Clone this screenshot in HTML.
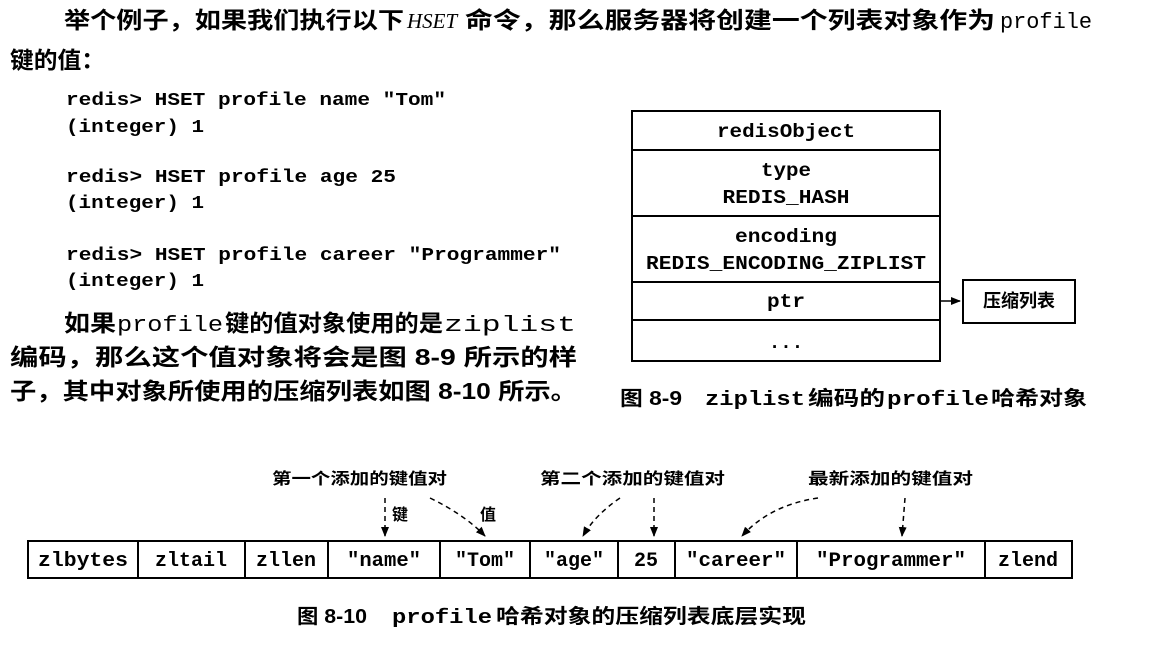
<!DOCTYPE html>
<html><head><meta charset="utf-8"><style>
html,body{margin:0;padding:0;background:#fff;}
svg{display:block}
.cj{font-family:"Liberation Sans","Noto Sans CJK SC",sans-serif;font-weight:bold;}
.mo{font-family:"Liberation Mono","Noto Sans CJK SC",monospace;}
</style></head><body>
<svg width="1163" height="649" viewBox="0 0 1163 649" xmlns="http://www.w3.org/2000/svg">
<defs><marker id="ah" markerWidth="10" markerHeight="10" refX="9" refY="5" orient="auto" markerUnits="userSpaceOnUse"><path d="M0,1 L10,5 L0,9 z" fill="#000"/></marker></defs>
<g fill="#000">
<text class="cj" x="64" y="28" font-size="23" textLength="340" lengthAdjust="spacingAndGlyphs">举个例子，如果我们执行以下</text>
<text x="407" y="28" font-size="21" font-style="italic" font-family="Liberation Serif,serif">HSET</text>
<text class="cj" x="465" y="28" font-size="23" textLength="530" lengthAdjust="spacingAndGlyphs">命令，那么服务器将创建一个列表对象作为</text>
<text class="mo" x="1000" y="28" font-size="22" textLength="92" lengthAdjust="spacingAndGlyphs">profile</text>
<text class="cj" x="10" y="68" font-size="23" textLength="95" lengthAdjust="spacingAndGlyphs">键的值：</text>
<g class="mo" font-size="18" font-weight="bold">
<text x="66" y="105" textLength="380" lengthAdjust="spacingAndGlyphs">redis&gt; HSET profile name "Tom"</text>
<text x="66" y="132" textLength="138" lengthAdjust="spacingAndGlyphs">(integer) 1</text>
<text x="66" y="182" textLength="330" lengthAdjust="spacingAndGlyphs">redis&gt; HSET profile age 25</text>
<text x="66" y="208" textLength="138" lengthAdjust="spacingAndGlyphs">(integer) 1</text>
<text x="66" y="260" textLength="495" lengthAdjust="spacingAndGlyphs">redis&gt; HSET profile career "Programmer"</text>
<text x="66" y="286" textLength="138" lengthAdjust="spacingAndGlyphs">(integer) 1</text>
</g>
<text class="cj" x="64" y="331" font-size="23" textLength="52" lengthAdjust="spacingAndGlyphs">如果</text>
<text class="mo" x="117" y="331" font-size="22" textLength="106" lengthAdjust="spacingAndGlyphs">profile</text>
<text class="cj" x="225" y="331" font-size="23" textLength="218" lengthAdjust="spacingAndGlyphs">键的值对象使用的是</text>
<text class="mo" x="444" y="331" font-size="22" textLength="132" lengthAdjust="spacingAndGlyphs">ziplist</text>
<text class="cj" x="10" y="365" font-size="23" textLength="567" lengthAdjust="spacingAndGlyphs">编码，那么这个值对象将会是图 8-9 所示的样</text>
<text class="cj" x="10" y="399" font-size="23" textLength="567" lengthAdjust="spacingAndGlyphs">子，其中对象所使用的压缩列表如图 8-10 所示。</text>
</g>
<g stroke="#000" stroke-width="2" fill="none">
<rect x="632" y="111" width="308" height="250"/>
<line x1="632" y1="150" x2="940" y2="150"/>
<line x1="632" y1="216" x2="940" y2="216"/>
<line x1="632" y1="282" x2="940" y2="282"/>
<line x1="632" y1="320" x2="940" y2="320"/>
<rect x="963" y="280" width="112" height="43"/>
<line x1="940" y1="301" x2="960" y2="301" marker-end="url(#ah)" stroke-width="1.5"/>
</g>
<g class="mo" font-size="19" font-weight="bold" text-anchor="middle">
<text x="786" y="137" textLength="138" lengthAdjust="spacingAndGlyphs">redisObject</text>
<text x="786" y="176" textLength="50" lengthAdjust="spacingAndGlyphs">type</text>
<text x="786" y="203" textLength="127" lengthAdjust="spacingAndGlyphs">REDIS_HASH</text>
<text x="786" y="242" textLength="102" lengthAdjust="spacingAndGlyphs">encoding</text>
<text x="786" y="269" textLength="280" lengthAdjust="spacingAndGlyphs">REDIS_ENCODING_ZIPLIST</text>
<text x="786" y="307" textLength="38" lengthAdjust="spacingAndGlyphs">ptr</text>
<text x="786" y="348">...</text>
</g>
<text class="cj" x="1019" y="307" font-size="18" text-anchor="middle">压缩列表</text>
<text class="cj" x="620" y="405" font-size="20" textLength="62" lengthAdjust="spacingAndGlyphs">图 8-9</text>
<text class="mo" x="705" y="405" font-size="20" font-weight="bold" textLength="100" lengthAdjust="spacingAndGlyphs">ziplist</text>
<text class="cj" x="808" y="405" font-size="20" textLength="77" lengthAdjust="spacingAndGlyphs">编码的</text>
<text class="mo" x="887" y="405" font-size="20" font-weight="bold" textLength="102" lengthAdjust="spacingAndGlyphs">profile</text>
<text class="cj" x="991" y="405" font-size="20" textLength="96" lengthAdjust="spacingAndGlyphs">哈希对象</text>
<g stroke="#000" stroke-width="2" fill="none">
<rect x="28" y="541" width="1044" height="37"/>
<line x1="138" y1="541" x2="138" y2="578"/>
<line x1="245" y1="541" x2="245" y2="578"/>
<line x1="328" y1="541" x2="328" y2="578"/>
<line x1="440" y1="541" x2="440" y2="578"/>
<line x1="530" y1="541" x2="530" y2="578"/>
<line x1="618" y1="541" x2="618" y2="578"/>
<line x1="675" y1="541" x2="675" y2="578"/>
<line x1="797" y1="541" x2="797" y2="578"/>
<line x1="985" y1="541" x2="985" y2="578"/>
</g>
<g class="mo" font-size="20" font-weight="bold" text-anchor="middle">
<text x="83" y="566" textLength="90" lengthAdjust="spacingAndGlyphs">zlbytes</text>
<text x="191" y="566">zltail</text>
<text x="286" y="566">zllen</text>
<text x="384" y="566" textLength="74" lengthAdjust="spacingAndGlyphs">"name"</text>
<text x="485" y="566">"Tom"</text>
<text x="574" y="566">"age"</text>
<text x="646" y="566">25</text>
<text x="736" y="566" textLength="100" lengthAdjust="spacingAndGlyphs">"career"</text>
<text x="891" y="566" textLength="150" lengthAdjust="spacingAndGlyphs">"Programmer"</text>
<text x="1028" y="566">zlend</text>
</g>
<g class="cj" font-size="16">
<text x="272" y="484" textLength="175" lengthAdjust="spacingAndGlyphs">第一个添加的键值对</text>
<text x="540" y="484" textLength="185" lengthAdjust="spacingAndGlyphs">第二个添加的键值对</text>
<text x="808" y="484" textLength="165" lengthAdjust="spacingAndGlyphs">最新添加的键值对</text>
<text x="392" y="520">键</text>
<text x="480" y="520">值</text>
</g>
<g stroke="#000" stroke-width="1.5" fill="none" stroke-dasharray="5,4">
<path d="M385 498 L385 536" marker-end="url(#ah)"/>
<path d="M430 498 Q465 515 485 536" marker-end="url(#ah)"/>
<path d="M620 498 Q595 515 583 536" marker-end="url(#ah)"/>
<path d="M654 498 L654 536" marker-end="url(#ah)"/>
<path d="M818 498 Q770 505 742 536" marker-end="url(#ah)"/>
<path d="M905 498 L902 536" marker-end="url(#ah)"/>
</g>
<text class="cj" x="297" y="623" font-size="20" textLength="70" lengthAdjust="spacingAndGlyphs">图 8-10</text>
<text class="mo" x="392" y="623" font-size="20" font-weight="bold" textLength="100" lengthAdjust="spacingAndGlyphs">profile</text>
<text class="cj" x="496" y="623" font-size="20" textLength="310" lengthAdjust="spacingAndGlyphs">哈希对象的压缩列表底层实现</text>
</svg>
</body></html>
